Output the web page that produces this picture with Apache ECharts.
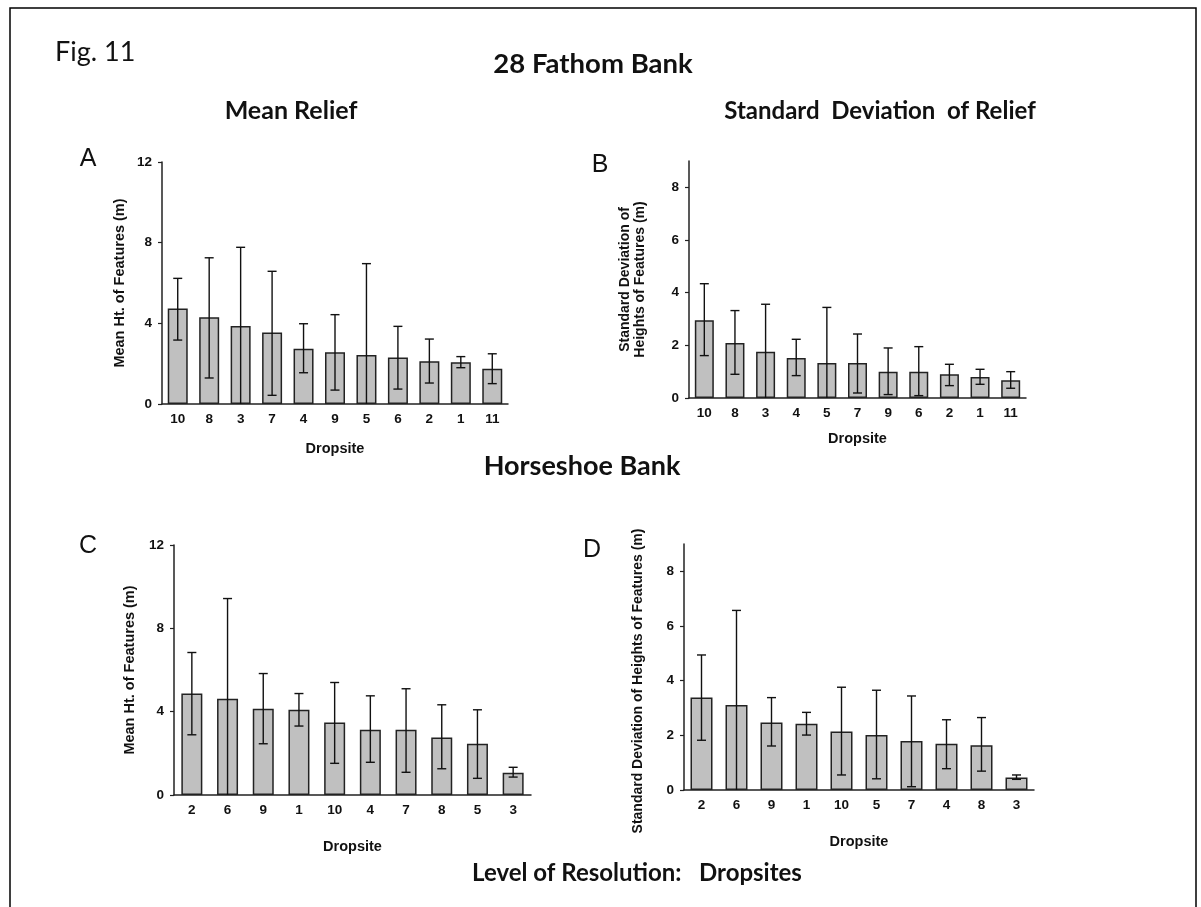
<!DOCTYPE html>
<html>
<head>
<meta charset="utf-8">
<script src="https://cdn.jsdelivr.net/npm/echarts@6/dist/echarts.min.js"></script>
<style>
html,body{margin:0;padding:0;background:#fff;}
#chart{width:1201px;height:907px;}
</style>
</head>
<body>
<div id="chart"></div>
<script>
// ---- Data ----
// Panel A: 28 Fathom Bank, mean relief
const catsA = ['10','8','3','7','4','9','5','6','2','1','11'];
const meanA = [4.73, 4.30, 3.87, 3.54, 2.74, 2.56, 2.43, 2.31, 2.12, 2.07, 1.75];
const hiA   = [6.23, 7.25, 7.77, 6.58, 3.98, 4.43, 6.96, 3.85, 3.22, 2.35, 2.49];
const loA   = [3.17, 1.29, -0.03, 0.43, 1.55, 0.69, -2.10, 0.74, 1.04, 1.80, 1.01];
// Panel B: 28 Fathom Bank, SD of relief
const catsB = ['10','8','3','4','5','7','9','6','2','1','11'];
const meanB = [2.95, 2.09, 1.76, 1.52, 1.33, 1.33, 1.00, 1.00, 0.90, 0.80, 0.67];
const hiB   = [4.34, 3.32, 3.56, 2.23, 3.44, 2.43, 1.90, 1.95, 1.28, 1.09, 1.00];
const loB   = [1.61, 0.90, -0.04, 0.85, -0.78, 0.19, 0.13, 0.09, 0.47, 0.52, 0.37];
// Panel C: Horseshoe Bank, mean relief
const catsC = ['2','6','9','1','10','4','7','8','5','3'];
const meanC = [4.87, 4.62, 4.14, 4.09, 3.48, 3.13, 3.13, 2.76, 2.46, 1.07];
const hiC   = [6.84, 9.43, 5.83, 4.87, 5.40, 4.76, 5.10, 4.33, 4.09, 1.33];
const loC   = [2.89, -0.19, 2.46, 3.31, 1.52, 1.57, 1.09, 1.26, 0.80, 0.86];
// Panel D: Horseshoe Bank, SD of relief
const catsD = ['2','6','9','1','10','5','7','4','8','3'];
const meanD = [3.38, 3.11, 2.47, 2.42, 2.14, 2.01, 1.79, 1.69, 1.64, 0.46];
const hiD   = [4.94, 6.57, 3.38, 2.84, 3.76, 3.65, 3.44, 2.57, 2.65, 0.55];
const loD   = [1.82, -0.35, 1.61, 2.01, 0.55, 0.41, 0.12, 0.78, 0.69, 0.39];
// Tick labels
const ticksMean = [0, 4, 8, 12];
const ticksSD = [0, 2, 4, 6, 8];

// ---- Styling ----
const AXF = 'Liberation Sans, Arial, sans-serif';
const TF = 'Lato, "Open Sans", sans-serif';
const axisCol = '#222';

function xAxis(gi, cats, nameGap) {
  return {
    type: 'category', gridIndex: gi, data: cats,
    name: 'Dropsite', nameLocation: 'middle', nameGap: nameGap,
    nameTextStyle: {fontFamily: AXF, fontWeight: 'bold', fontSize: 14.5, color: '#111'},
    axisLine: {lineStyle: {color: axisCol, width: 1.5}},
    axisTick: {alignWithLabel: true, length: 4, lineStyle: {color: axisCol, width: 1.2}},
    axisLabel: {fontFamily: AXF, fontWeight: 'bold', fontSize: 13.5, color: '#111', margin: 8},
    splitLine: {show: false}
  };
}
function yAxis(gi, max, ticks, name, nameGap, fs, lh, pad) {
  return {
    type: 'value', gridIndex: gi, min: 0, max: max,
    name: name, nameLocation: 'middle', nameGap: nameGap,
    nameTextStyle: {fontFamily: AXF, fontWeight: 'bold', fontSize: fs || 14.5, color: '#111',
      lineHeight: lh || 17, padding: pad || 0},
    axisLine: {show: true, lineStyle: {color: axisCol, width: 1.5}},
    axisTick: {show: true, length: 4, customValues: ticks, lineStyle: {color: axisCol, width: 1.2}},
    axisLabel: {fontFamily: AXF, fontWeight: 'bold', fontSize: 13.5, color: '#111', margin: 10, customValues: ticks},
    splitLine: {show: false}
  };
}
function barSeries(i, vals, bw) {
  return {
    type: 'bar', xAxisIndex: i, yAxisIndex: i, data: vals, barWidth: bw,
    itemStyle: {color: '#c0c0c0', borderColor: '#222', borderWidth: 1.5},
    silent: true, z: 2
  };
}
function errSeries(i, lo, hi) {
  return {
    type: 'custom', xAxisIndex: i, yAxisIndex: i, clip: true, z: 5, silent: true,
    data: lo.map((l, k) => [k, l, hi[k]]),
    renderItem: function (params, api) {
      const x = api.value(0);
      const pLo = api.coord([x, api.value(1)]);
      const pHi = api.coord([x, api.value(2)]);
      const hw = 4.5;
      const st = {stroke: '#111', lineWidth: 1.4};
      return {type: 'group', children: [
        {type: 'line', shape: {x1: pLo[0], y1: pLo[1], x2: pHi[0], y2: pHi[1]}, style: st},
        {type: 'line', shape: {x1: pHi[0] - hw, y1: pHi[1], x2: pHi[0] + hw, y2: pHi[1]}, style: st},
        {type: 'line', shape: {x1: pLo[0] - hw, y1: pLo[1], x2: pLo[0] + hw, y2: pLo[1]}, style: st}
      ]};
    }
  };
}
function txt(x, y, s, size, bold, font, align) {
  return {type: 'text', x: x, y: y, silent: true,
    style: {text: s, fontSize: size, fontWeight: bold ? 'bold' : 'normal', fontFamily: font || TF,
      fill: '#111', textAlign: align || 'center', textVerticalAlign: 'middle'}};
}

const chart = echarts.init(document.getElementById('chart'), null, {renderer: 'canvas'});
chart.setOption({
  backgroundColor: '#fff',
  animation: false,
  grid: [
    {left: 162, top: 162, width: 346, height: 242},
    {left: 689, top: 161, width: 337, height: 237},
    {left: 174, top: 545, width: 357, height: 250},
    {left: 684, top: 544, width: 350, height: 246}
  ],
  xAxis: [xAxis(0, catsA, 37), xAxis(1, catsB, 33), xAxis(2, catsC, 44), xAxis(3, catsD, 44)],
  yAxis: [
    yAxis(0, 12, ticksMean, 'Mean Ht. of Features (m)', 34),
    yAxis(1, 9, ticksSD, 'Standard Deviation of\nHeights of Features (m)', 41, 14, 15),
    yAxis(2, 12, ticksMean, 'Mean Ht. of Features (m)', 36),
    yAxis(3, 9, ticksSD, 'Standard Deviation of Heights of Features (m)', 37, 14, 17, [0, 28, 0, 0])
  ],
  series: [
    barSeries(0, meanA, 20), errSeries(0, loA, hiA),
    barSeries(1, meanB, 19), errSeries(1, loB, hiB),
    barSeries(2, meanC, 21), errSeries(2, loC, hiC),
    barSeries(3, meanD, 22), errSeries(3, loD, hiD)
  ],
  graphic: [
    {type: 'rect', silent: true, shape: {x: 10, y: 8, width: 1186, height: 930},
      style: {fill: 'none', stroke: '#000', lineWidth: 1.5}},
    txt(55, 52, 'Fig. 11', 27, false, TF, 'left'),
    txt(593, 64, '28 Fathom Bank', 27.5, true),
    txt(291, 111, 'Mean Relief', 25, true),
    txt(880, 111, 'Standard  Deviation  of Relief', 24, true),
    txt(582, 466, 'Horseshoe Bank', 27, true),
    txt(637, 873, 'Level of Resolution:   Dropsites', 24, true),
    txt(88, 159, 'A', 25, false, AXF),
    txt(600, 165, 'B', 25, false, AXF),
    txt(88, 546, 'C', 25, false, AXF),
    txt(592, 550, 'D', 25, false, AXF)
  ]
});
</script>
</body>
</html>
